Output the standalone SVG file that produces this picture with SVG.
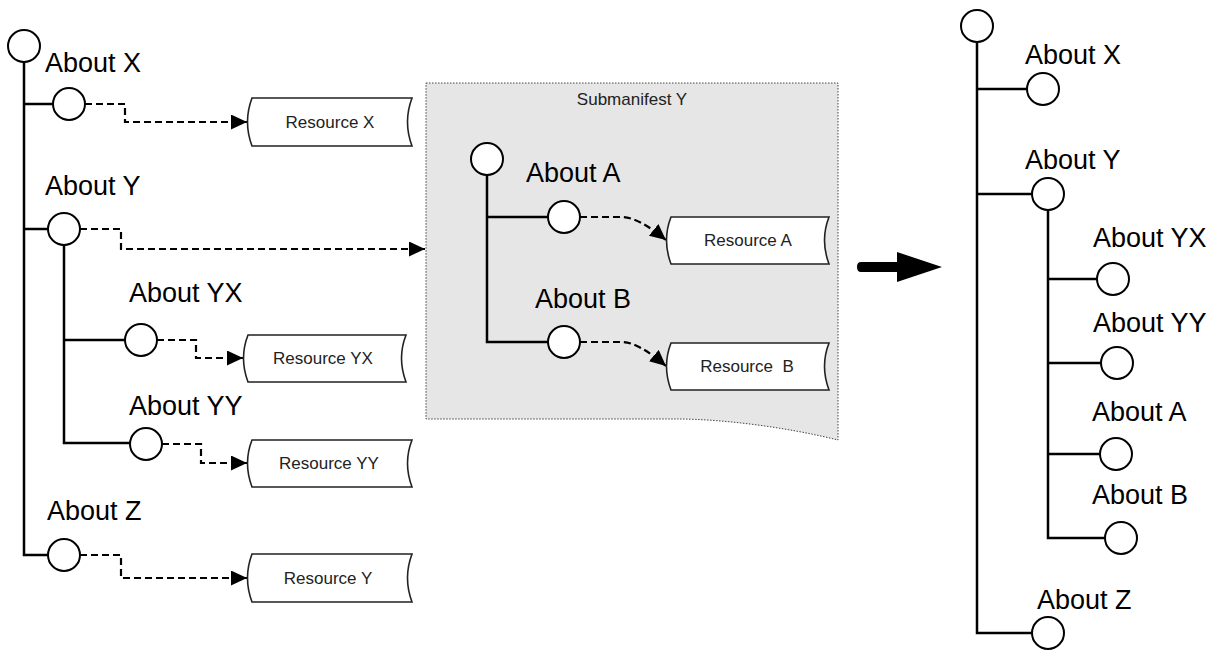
<svg xmlns="http://www.w3.org/2000/svg" width="1217" height="652" viewBox="0 0 1217 652">
  <style>
    .bg { fill: #ffffff; }
    .node { fill: #ffffff; stroke: #000; stroke-width: 2; }
    .tree { fill: none; stroke: #000; stroke-width: 2.5; }
    .link { fill: none; stroke: #000; stroke-width: 2.2; stroke-dasharray: 7 4; }
    .res { fill: #ffffff; stroke: #222; stroke-width: 1.6; }
    .lbl { font-family: "Liberation Sans", Arial, sans-serif; font-size: 27px; fill: #000; }
    .rtxt { font-family: "Liberation Sans", Arial, sans-serif; font-size: 17px; fill: #222; text-anchor: middle; }
    .sub { fill: #e6e6e6; stroke: #444; stroke-width: 1; stroke-dasharray: 1.5 1.5; }
  </style>
  <defs>
    <marker id="arr" markerUnits="userSpaceOnUse" markerWidth="18" markerHeight="16" refX="16" refY="7.5" orient="auto">
      <path d="M0,0 L16,7.5 L0,15 Z" fill="#000"/>
    </marker>
  </defs>
  <rect class="bg" width="1217" height="652"/>

  <!-- submanifest container -->
  <g id="submanifest-y">
    <path class="sub" d="M426,83 H838 V440 C790,428 725,419 677,419 H426 Z"/>
    <text class="rtxt" x="632" y="105">Submanifest Y</text>
  </g>

  <!-- tree lines and dashed references -->
  <g id="connectors">
    <!-- left tree -->
    <path class="tree" d="M24,62 V555 H48"/>
    <path class="tree" d="M24,104 H53"/>
    <path class="tree" d="M24,229 H48"/>
    <path class="tree" d="M64,245 V443 H130"/>
    <path class="tree" d="M64,340 H125"/>
    <path class="link" d="M85,104 H125 V122 H247" marker-end="url(#arr)"/>
    <path class="link" d="M80,229 H121 V249 H425" marker-end="url(#arr)"/>
    <path class="link" d="M157,340 H196 V358 H243" marker-end="url(#arr)"/>
    <path class="link" d="M162,444 H201 V463 H247" marker-end="url(#arr)"/>
    <path class="link" d="M80,555 H121 V578 H247" marker-end="url(#arr)"/>
    <!-- submanifest tree -->
    <path class="tree" d="M487,175 V342 H548"/>
    <path class="tree" d="M487,217 H548"/>
    <path class="link" d="M580,217 H622 Q638,217 666,240" marker-end="url(#arr)"/>
    <path class="link" d="M580,342 H622 Q638,342 666,366" marker-end="url(#arr)"/>
    <!-- merged tree -->
    <path class="tree" d="M977,42 V633 H1032"/>
    <path class="tree" d="M977,89 H1027"/>
    <path class="tree" d="M977,194 H1032"/>
    <path class="tree" d="M1048,210 V538 H1105"/>
    <path class="tree" d="M1048,279 H1097"/>
    <path class="tree" d="M1048,363 H1101"/>
    <path class="tree" d="M1048,454 H1100"/>
    <!-- transformation arrow -->
    <path d="M861,262 H897 V252 L942,267 L897,282 V272 H861 Q857,272 857,267 Q857,262 861,262 Z" fill="#000"/>
  </g>

  <!-- left manifest nodes -->
  <g id="root-left"><circle class="node" cx="24" cy="46" r="16"/></g>
  <g id="about-x-left">
    <text class="lbl" x="45" y="72">About X</text>
    <circle class="node" cx="69" cy="104" r="16"/>
  </g>
  <g id="about-y-left">
    <text class="lbl" x="45" y="195">About Y</text>
    <circle class="node" cx="64" cy="229" r="16"/>
  </g>
  <g id="about-yx-left">
    <text class="lbl" x="129" y="302">About YX</text>
    <circle class="node" cx="141" cy="340" r="16"/>
  </g>
  <g id="about-yy-left">
    <text class="lbl" x="129" y="415">About YY</text>
    <circle class="node" cx="146" cy="444" r="16"/>
  </g>
  <g id="about-z-left">
    <text class="lbl" x="47" y="520">About Z</text>
    <circle class="node" cx="64" cy="555" r="16"/>
  </g>

  <!-- resources -->
  <g id="resource-x">
    <path class="res" d="M252,98 H412 Q403,122 412,146 H252 Q243,122 252,98 Z"/>
    <text class="rtxt" x="330" y="128">Resource X</text>
  </g>
  <g id="resource-yx">
    <path class="res" d="M248,335 H406 Q397,358 406,382 H248 Q239,358 248,335 Z"/>
    <text class="rtxt" x="323" y="364">Resource YX</text>
  </g>
  <g id="resource-yy">
    <path class="res" d="M252,440 H412 Q403,463 412,487 H252 Q243,463 252,440 Z"/>
    <text class="rtxt" x="329" y="469">Resource YY</text>
  </g>
  <g id="resource-y">
    <path class="res" d="M252,554 H412 Q403,578 412,602 H252 Q243,578 252,554 Z"/>
    <text class="rtxt" x="328" y="584">Resource Y</text>
  </g>

  <!-- submanifest nodes -->
  <g id="root-sub"><circle class="node" cx="487" cy="159" r="16"/></g>
  <g id="about-a-sub">
    <text class="lbl" x="526" y="182">About A</text>
    <circle class="node" cx="564" cy="217" r="16"/>
  </g>
  <g id="about-b-sub">
    <text class="lbl" x="535" y="308">About B</text>
    <circle class="node" cx="564" cy="342" r="16"/>
  </g>
  <g id="resource-a">
    <path class="res" d="M671,217 H829 Q820,240 829,264 H671 Q662,240 671,217 Z"/>
    <text class="rtxt" x="748" y="246">Resource A</text>
  </g>
  <g id="resource-b">
    <path class="res" d="M671,343 H829 Q820,366 829,390 H671 Q662,366 671,343 Z"/>
    <text class="rtxt" x="747" y="372" xml:space="preserve">Resource  B</text>
  </g>

  <!-- merged manifest nodes -->
  <g id="root-right"><circle class="node" cx="977" cy="26" r="16"/></g>
  <g id="about-x-right">
    <text class="lbl" x="1025" y="64">About X</text>
    <circle class="node" cx="1043" cy="89" r="16"/>
  </g>
  <g id="about-y-right">
    <text class="lbl" x="1025" y="169">About Y</text>
    <circle class="node" cx="1048" cy="194" r="16"/>
  </g>
  <g id="about-yx-right">
    <text class="lbl" x="1093" y="247">About YX</text>
    <circle class="node" cx="1113" cy="279" r="16"/>
  </g>
  <g id="about-yy-right">
    <text class="lbl" x="1093" y="332">About YY</text>
    <circle class="node" cx="1117" cy="363" r="16"/>
  </g>
  <g id="about-a-right">
    <text class="lbl" x="1092" y="421">About A</text>
    <circle class="node" cx="1116" cy="454" r="16"/>
  </g>
  <g id="about-b-right">
    <text class="lbl" x="1092" y="504">About B</text>
    <circle class="node" cx="1121" cy="538" r="16"/>
  </g>
  <g id="about-z-right">
    <text class="lbl" x="1037" y="609">About Z</text>
    <circle class="node" cx="1048" cy="633" r="16"/>
  </g>
</svg>
